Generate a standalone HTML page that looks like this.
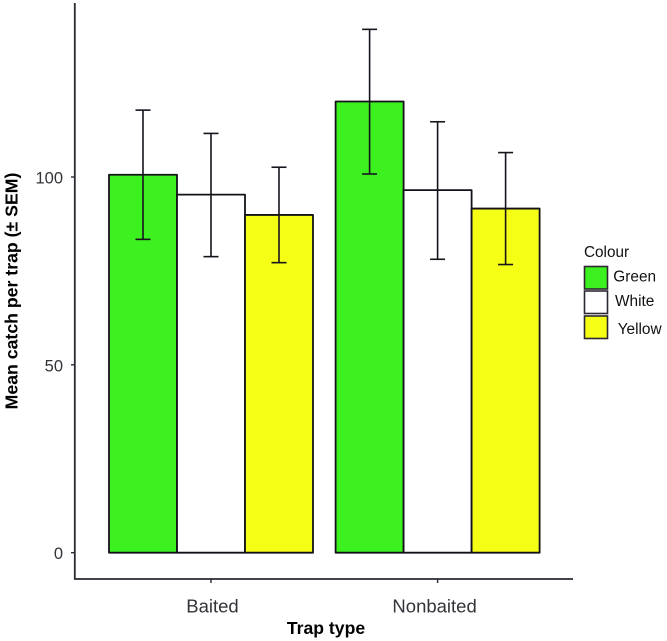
<!DOCTYPE html>
<html>
<head>
<meta charset="utf-8">
<title>Mean catch per trap</title>
<style>
html,body{margin:0;padding:0;background:#fff;width:667px;height:641px;overflow:hidden}
svg{display:block;font-family:"Liberation Sans",sans-serif;filter:blur(0.3px)}
</style>
</head>
<body>
<svg id="chart" xmlns="http://www.w3.org/2000/svg" width="667" height="641" viewBox="0 0 667 641">
<rect x="0" y="0" width="667" height="641" fill="#fff"/>
<g id="bars"></g>
<g id="errors"></g>
<line x1="74.8" y1="3" x2="74.8" y2="579.5" stroke="#2c2832" stroke-width="1.8"/>
<line x1="74" y1="579" x2="573" y2="579" stroke="#2c2832" stroke-width="1.8"/>
<g id="yticks"></g>
<g id="xticks"></g>
<text transform="translate(17.5,291) rotate(-90)" text-anchor="middle" font-size="17.7" font-weight="bold" fill="#000">Mean catch per trap (± SEM)</text>
<text x="326" y="634" text-anchor="middle" font-size="17.6" font-weight="bold" fill="#000">Trap type</text>
<g>
<text x="584" y="257" font-size="15.3" fill="#111">Colour</text>
<rect x="584.5" y="266.5" width="23" height="22.5" fill="#3df020" stroke="#2c2832" stroke-width="1.6"/>
<text x="613.3" y="281.5" font-size="15.4" fill="#111">Green</text>
<rect x="584.5" y="291" width="23" height="22.5" fill="#fff" stroke="#2c2832" stroke-width="1.6"/>
<text x="615" y="306" font-size="15.4" fill="#111">White</text>
<rect x="584.5" y="316" width="23" height="22.5" fill="#f5ff15" stroke="#2c2832" stroke-width="1.6"/>
<text x="617.7" y="334" font-size="15.4" fill="#111">Yellow</text>
</g>
</svg>
<script>
const categories = ["Baited", "Nonbaited"];
const seriesNames = ["Green", "White", "Yellow"];
const seriesColors = ["#3df020", "#ffffff", "#f5ff15"];
const greenValues = [100.6, 120.1];
const whiteValues = [95.3, 96.5];
const yellowValues = [89.9, 91.6];
const greenLower = [83.4, 100.8];
const whiteLower = [78.8, 78.1];
const yellowLower = [77.2, 76.7];
const greenUpper = [117.8, 139.3];
const whiteUpper = [111.6, 114.7];
const yellowUpper = [102.6, 106.5];
const yTickValues = [0, 50, 100];

const seriesValues = [greenValues, whiteValues, yellowValues];
const seriesLower = [greenLower, whiteLower, yellowLower];
const seriesUpper = [greenUpper, whiteUpper, yellowUpper];

const SVGNS = "http://www.w3.org/2000/svg";
const firstCenter = 211;
const categoryStep = 226.6;
const barWidth = 68;
const capHalf = 7.5;
const y0 = 552.7;
const pxPerUnit = 3.757;

function yScale(v) { return y0 - v * pxPerUnit; }
function xCenter(c) { return firstCenter + c * categoryStep; }
function xBar(c, s) { return xCenter(c) + (s - seriesNames.length / 2) * barWidth; }
function xLabel(c) { return xCenter(c) + (c === 0 ? 1.5 : -3); }

function make(tag, attrs) {
  const el = document.createElementNS(SVGNS, tag);
  Object.keys(attrs).forEach(function (k) { el.setAttribute(k, attrs[k]); });
  return el;
}

const barsG = document.getElementById("bars");
const errG = document.getElementById("errors");
const yG = document.getElementById("yticks");
const xG = document.getElementById("xticks");
const lineColor = "#14111a";

categories.forEach(function (cat, c) {
  seriesNames.forEach(function (name, s) {
    const key = cat.toLowerCase() + "-" + name.toLowerCase();
    const v = seriesValues[s][c];
    const bar = make("rect", {
      x: xBar(c, s), y: yScale(v), width: barWidth, height: y0 - yScale(v),
      fill: seriesColors[s], stroke: lineColor, "stroke-width": 1.8, "stroke-linejoin": "round"
    });
    
    
    barsG.appendChild(bar);

    const cx = xBar(c, s) + barWidth / 2;
    const top = yScale(seriesUpper[s][c]);
    const bot = yScale(seriesLower[s][c]);
    const g = make("g", { stroke: "#17141d", "stroke-width": 1.6, fill: "none" });
    
    
    g.appendChild(make("line", { x1: cx, y1: top, x2: cx, y2: bot }));
    g.appendChild(make("line", { x1: cx - capHalf, y1: top, x2: cx + capHalf, y2: top }));
    g.appendChild(make("line", { x1: cx - capHalf, y1: bot, x2: cx + capHalf, y2: bot }));
    errG.appendChild(g);
  });

  const tick = make("line", { x1: xCenter(c), y1: 579, x2: xCenter(c), y2: 583, stroke: "#2c2832", "stroke-width": 1.4 });
  
  
  xG.appendChild(tick);

  const label = make("text", { x: xLabel(c), y: 612.5, "text-anchor": "middle", "font-size": 18.5, fill: "#333339" });
  
  
  label.textContent = cat;
  xG.appendChild(label);
});

yTickValues.forEach(function (t) {
  const py = yScale(t);
  const tick = make("line", { x1: 71, y1: py, x2: 75, y2: py, stroke: "#2c2832", "stroke-width": 1.4 });
  
  
  yG.appendChild(tick);

  const label = make("text", { x: 63, y: py + 6.5, "text-anchor": "end", "font-size": 16.5, fill: "#333339" });
  
  
  label.textContent = String(t);
  yG.appendChild(label);
});
</script>
</body>
</html>
